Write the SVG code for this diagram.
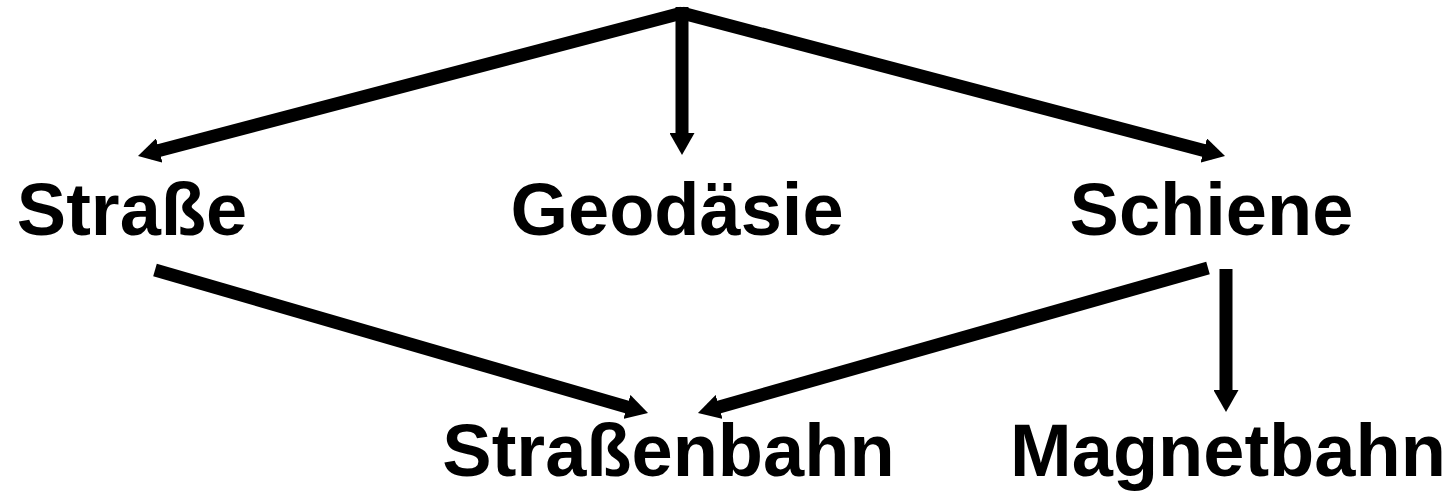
<svg xmlns="http://www.w3.org/2000/svg" width="1448" height="493" viewBox="0 0 1448 493">
<style>
.lbl{font-family:"Liberation Sans",Arial,Helvetica,sans-serif;font-weight:bold;font-size:74px;fill:#000;text-anchor:middle}
.edge{stroke:#000;stroke-width:13;fill:none;stroke-linecap:butt;marker-end:url(#ah)}
</style>
<defs>
<marker id="ah" markerUnits="userSpaceOnUse" viewBox="0 0 22 25" markerWidth="22" markerHeight="25" refX="10" refY="12.5" orient="auto">
<path d="M0,0 L22,12.5 L0,25 z" fill="#000"/>
</marker>
</defs>
<rect width="1448" height="493" fill="#fff"/>
<g id="connectors">
<line class="edge" x1="682" y1="13" x2="149.6" y2="153"/>
<line class="edge" x1="682" y1="7" x2="682" y2="143"/>
<line class="edge" x1="682" y1="13" x2="1213.4" y2="153"/>
<line class="edge" x1="155" y1="270" x2="636.5" y2="409.7"/>
<line class="edge" x1="1208" y1="268" x2="709.5" y2="409.7"/>
<line class="edge" x1="1226" y1="269" x2="1226" y2="400"/>
</g>
<g id="strasse"><text class="lbl" x="132" y="235">Straße</text></g>
<g id="geodaesie"><text class="lbl" x="677" y="235">Geodäsie</text></g>
<g id="schiene"><text class="lbl" x="1211.5" y="235">Schiene</text></g>
<g id="strassenbahn"><text class="lbl" x="668.5" y="476">Straßenbahn</text></g>
<g id="magnetbahn"><text class="lbl" x="1228" y="476">Magnetbahn</text></g>
</svg>
